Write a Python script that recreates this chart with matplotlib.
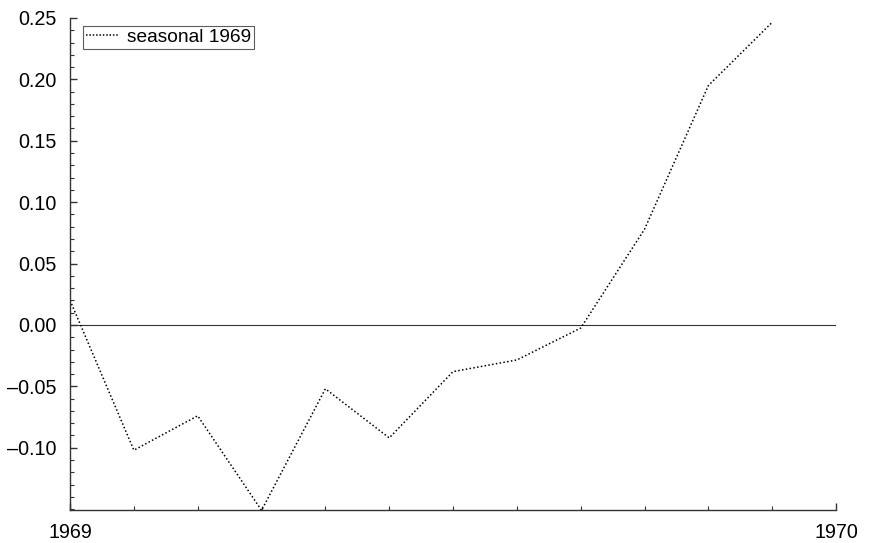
import numpy as np
import matplotlib.pyplot as plt
from matplotlib.ticker import MultipleLocator, FixedLocator

plt.rcParams['font.family'] = ['Liberation Sans', 'DejaVu Sans']

# monthly seasonal factors, 1969
months = np.arange(12)
seasonal = [0.020, -0.102, -0.074, -0.151, -0.052, -0.092,
            -0.038, -0.0285, -0.0025, 0.078, 0.195, 0.2465]
year_ticks = [1969, 1970]
year_labels = ['1969', '1970']

x = 1969 + months / 12.0

fig = plt.figure(figsize=(8.69, 5.43), dpi=100)
ax = fig.add_axes([0.0806, 0.0608, 0.8815, 0.9061])

ax.axhline(0, color='#333333', lw=0.8, zorder=1)
ax.plot(x, seasonal, color='black', lw=1.1, linestyle=(0, (1, 1.5)),
        label='seasonal 1969', zorder=2)

ax.set_xlim(1969, 1970)
ax.set_ylim(-0.1507, 0.25)

ax.xaxis.set_major_locator(FixedLocator(year_ticks))
ax.set_xticklabels(year_labels)
ax.xaxis.set_minor_locator(FixedLocator(list(1969 + np.arange(1, 12) / 12.0)))
ax.yaxis.set_major_locator(FixedLocator(np.round(np.arange(-0.10, 0.2501, 0.05), 2)))
ax.yaxis.set_minor_locator(MultipleLocator(0.01))
ax.yaxis.set_major_formatter(plt.FuncFormatter(lambda v, p: ('%.2f' % v).replace('-', '\u2013')))

ax.spines['right'].set_color('none')
ax.spines['top'].set_color('none')
for s in ['left', 'bottom']:
    ax.spines[s].set_linewidth(1.0)
    ax.spines[s].set_color('#333333')

ax.tick_params(which='both', direction='in', color='#333333', labelsize=14.2)
ax.tick_params(which='major', length=5, width=1.0)
ax.tick_params(which='minor', length=3, width=0.8)
ax.tick_params(axis='y', which='major', pad=9.5)
ax.tick_params(axis='x', which='major', pad=9.5)

leg = ax.legend(loc='upper left', bbox_to_anchor=(0.017, 0.984), fontsize=13.8,
                frameon=True, fancybox=False, handlelength=1.7,
                borderpad=0.15, handletextpad=0.45, borderaxespad=0)
leg.get_frame().set_edgecolor('#333333')
leg.get_frame().set_linewidth(0.8)
leg.get_lines()[0].set_linestyle((0, (1, 1.2)))

fig.savefig('out.png', dpi=100)
